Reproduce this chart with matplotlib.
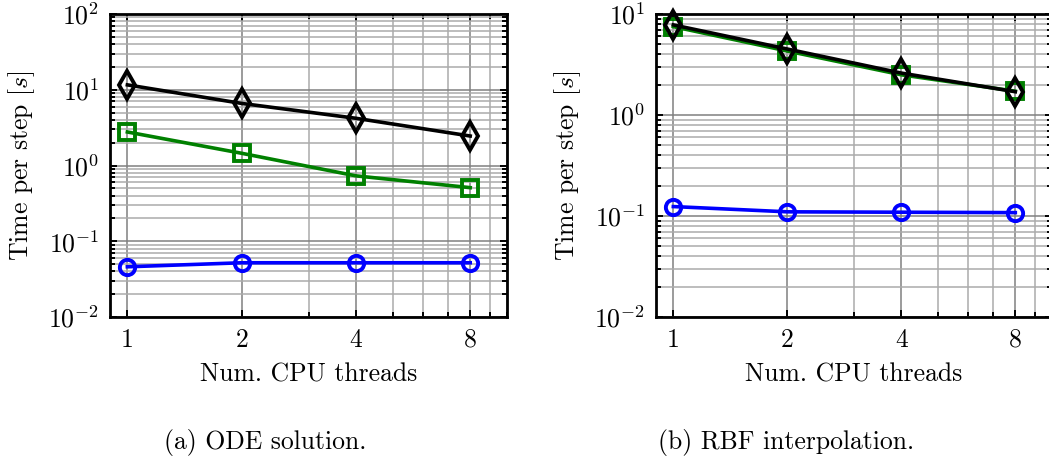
import numpy as np
import matplotlib
matplotlib.use('Agg')
import matplotlib.pyplot as plt
from matplotlib import ticker

#%% Set matplotlib general parameters

#Computer Modern look like the LaTeX document
plt.rcParams['font.family'] = 'serif'
plt.rcParams['font.serif'] = ['cmr10']
plt.rcParams['mathtext.fontset'] = 'cm'
plt.rcParams['axes.formatter.use_mathtext'] = True
plt.rcParams['font.size'] = 18.5
plt.rcParams['xtick.labelsize'] = 18.5
plt.rcParams['ytick.labelsize'] = 18.5

#%% Data

threads = [1, 2, 4, 8]
tick_labels = ['1', '2', '4', '8']

#(a) ODE solution
ode_black = [11.6, 6.6, 4.2, 2.45]
ode_green = [2.77, 1.45, 0.73, 0.51]
ode_blue = [0.046, 0.052, 0.052, 0.052]

#(b) RBF interpolation
rbf_black = [7.8, 4.5, 2.6, 1.7]
rbf_green = [7.5, 4.3, 2.5, 1.72]
rbf_blue = [0.124, 0.110, 0.109, 0.108]

captions = ['(a) ODE solution.', '(b) RBF interpolation.']

#%% Plot

fig = plt.figure(figsize=(10.49, 4.66), dpi=100)

ax_left = fig.add_axes([110/1049, 1-317/466, 397/1049, 303/466])
ax_right = fig.add_axes([656/1049, 1-317/466, 396/1049, 303/466])


def style_axes(ax, ylim):
    ax.set_xscale('log', base=2)
    ax.set_yscale('log')
    ax.set_xlim(0.9, 10)
    ax.set_ylim(*ylim)
    ax.set_xticks(threads)
    ax.set_xticklabels(tick_labels)
    ax.xaxis.set_minor_locator(ticker.FixedLocator([3, 5, 6, 7, 9, 10]))
    ax.xaxis.set_minor_formatter(ticker.NullFormatter())
    ax.yaxis.set_major_locator(ticker.LogLocator(base=10, numticks=10))
    ax.yaxis.set_minor_locator(ticker.LogLocator(base=10, subs=np.arange(2, 10), numticks=20))
    ax.yaxis.set_minor_formatter(ticker.NullFormatter())
    ax.grid(which='major', color='#808080', linewidth=1.1)
    ax.grid(which='minor', color='#ababab', linewidth=1.1)
    ax.set_axisbelow(True)
    ax.tick_params(which='both', direction='in', top=True, right=True, width=1.4)
    ax.tick_params(which='major', length=5, pad=8)
    ax.tick_params(which='minor', length=3.5)
    for sp in ax.spines.values():
        sp.set_linewidth(2.0)
    ax.set_xlabel('Num. CPU threads', labelpad=8)
    ax.set_ylabel('Time per step [$s$]', labelpad=8)


for ax, blue, green, black, ylim in [(ax_left, ode_blue, ode_green, ode_black, (1e-2, 1e2)),
                                     (ax_right, rbf_blue, rbf_green, rbf_black, (1e-2, 1e1))]:
    ax.plot(threads, blue, color='#0000ff', linewidth=2.6, marker='o', markersize=11,
            markerfacecolor='none', markeredgewidth=2.8, clip_on=False)
    ax.plot(threads, green, color='#008000', linewidth=2.6, marker='s', markersize=12,
            markerfacecolor='none', markeredgewidth=2.8, clip_on=False)
    ax.plot(threads, black, color='black', linewidth=2.6, marker='d', markersize=14,
            markerfacecolor='none', markeredgewidth=2.8, clip_on=False)
    style_axes(ax, ylim)

fig.text(265/1049, 1-443/466, captions[0], ha='center', va='center', fontsize=18.5)
fig.text(786/1049, 1-443/466, captions[1], ha='center', va='center', fontsize=18.5)

plt.savefig('out.png', dpi=100)
